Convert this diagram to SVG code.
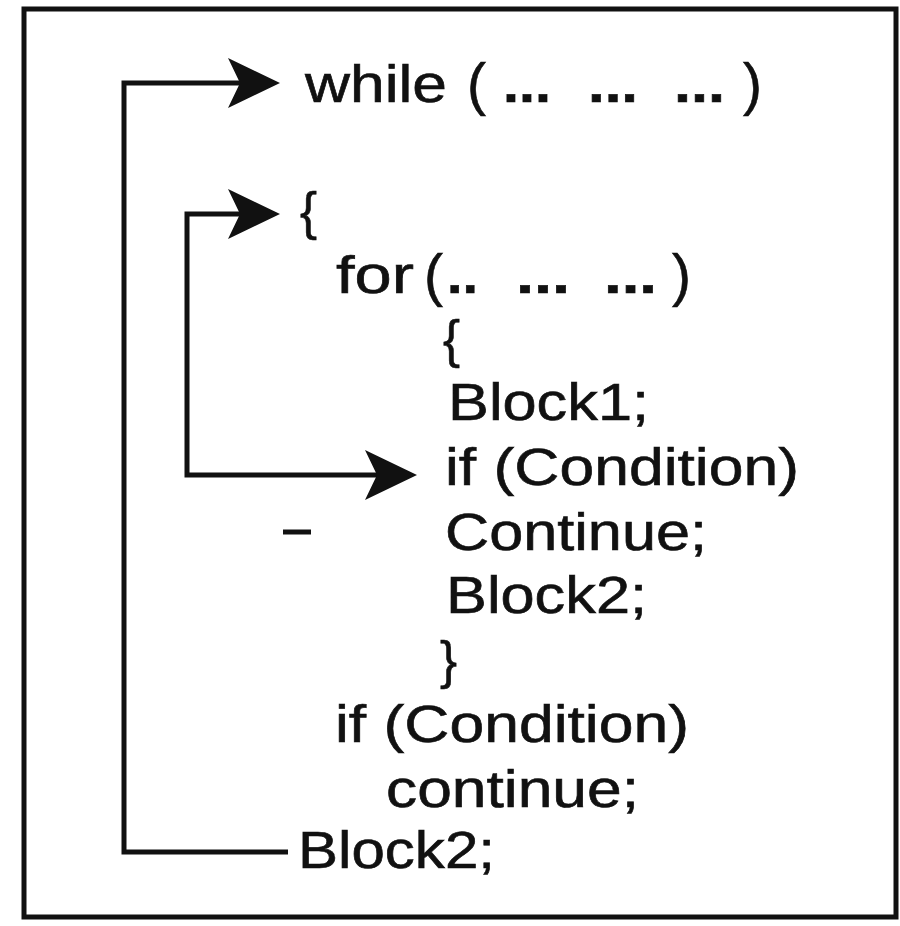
<svg xmlns="http://www.w3.org/2000/svg" width="900" height="926" viewBox="0 0 900 926">
<style>
  .t { font-family: "Liberation Sans", Arial, sans-serif; font-size: 51px; fill: #111; stroke: #111; stroke-width: 0.6; }
  .d { font-weight: bold; }
  .p { font-size: 57px; }
  .ln { fill: none; stroke: #111; stroke-width: 5; stroke-linejoin: miter; stroke-linecap: butt; }
  .ah { fill: #111; stroke: none; }
</style>
<defs>
  <path id="arrowhead" class="ah" d="M0,0 L-52,-25 L-40,0 L-52,25 Z"/>
</defs>
<rect x="24" y="9" width="872" height="908" fill="#fff" stroke="#111" stroke-width="5"/>
<g id="connectors">
  <path class="ln" d="M288,852 L124,852 L124,83 L250,83"/>
  <use href="#arrowhead" transform="translate(280,83)"/>
  <path class="ln" d="M380,475 L187,475 L187,214 L250,214"/>
  <use href="#arrowhead" transform="translate(280,214)"/>
  <use href="#arrowhead" transform="translate(417,475)"/>
  <line class="ln" x1="283" y1="532" x2="311" y2="532" stroke-width="2.5"/>
</g>
<g id="while-line">
  <text class="t" x="305" y="102" textLength="142" lengthAdjust="spacingAndGlyphs">while</text>
  <text class="t p" x="467" y="104">(</text>
  <text class="t d" x="503" y="102" textLength="48" lengthAdjust="spacingAndGlyphs">...</text>
  <text class="t d" x="588" y="102" textLength="50" lengthAdjust="spacingAndGlyphs">...</text>
  <text class="t d" x="674" y="102" textLength="51" lengthAdjust="spacingAndGlyphs">...</text>
  <text class="t p" x="743" y="104">)</text>
</g>
<g id="open-brace-outer">
  <text class="t" x="300" y="229">{</text>
</g>
<g id="for-line">
  <text class="t" x="336" y="293" textLength="78" lengthAdjust="spacingAndGlyphs">for</text>
  <text class="t p" x="424" y="295">(</text>
  <text class="t d" x="447" y="293" textLength="31" lengthAdjust="spacingAndGlyphs">..</text>
  <text class="t d" x="516" y="293" textLength="54" lengthAdjust="spacingAndGlyphs">...</text>
  <text class="t d" x="604" y="293" textLength="53" lengthAdjust="spacingAndGlyphs">...</text>
  <text class="t p" x="672" y="295">)</text>
</g>
<g id="open-brace-inner">
  <text class="t" x="443" y="357">{</text>
</g>
<g id="block1">
  <text class="t" x="448" y="420" textLength="201" lengthAdjust="spacingAndGlyphs">Block1;</text>
</g>
<g id="if-inner">
  <text class="t" x="445" y="485" textLength="354" lengthAdjust="spacingAndGlyphs">if (Condition)</text>
</g>
<g id="continue-inner">
  <text class="t" x="445" y="550" textLength="262" lengthAdjust="spacingAndGlyphs">Continue;</text>
</g>
<g id="block2-inner">
  <text class="t" x="446" y="613" textLength="201" lengthAdjust="spacingAndGlyphs">Block2;</text>
</g>
<g id="close-brace-inner">
  <text class="t" x="440" y="678">}</text>
</g>
<g id="if-outer">
  <text class="t" x="335" y="742" textLength="354" lengthAdjust="spacingAndGlyphs">if (Condition)</text>
</g>
<g id="continue-outer">
  <text class="t" x="386" y="807" textLength="253" lengthAdjust="spacingAndGlyphs">continue;</text>
</g>
<g id="block2-outer">
  <text class="t" x="298" y="868" textLength="197" lengthAdjust="spacingAndGlyphs">Block2;</text>
</g>
</svg>
